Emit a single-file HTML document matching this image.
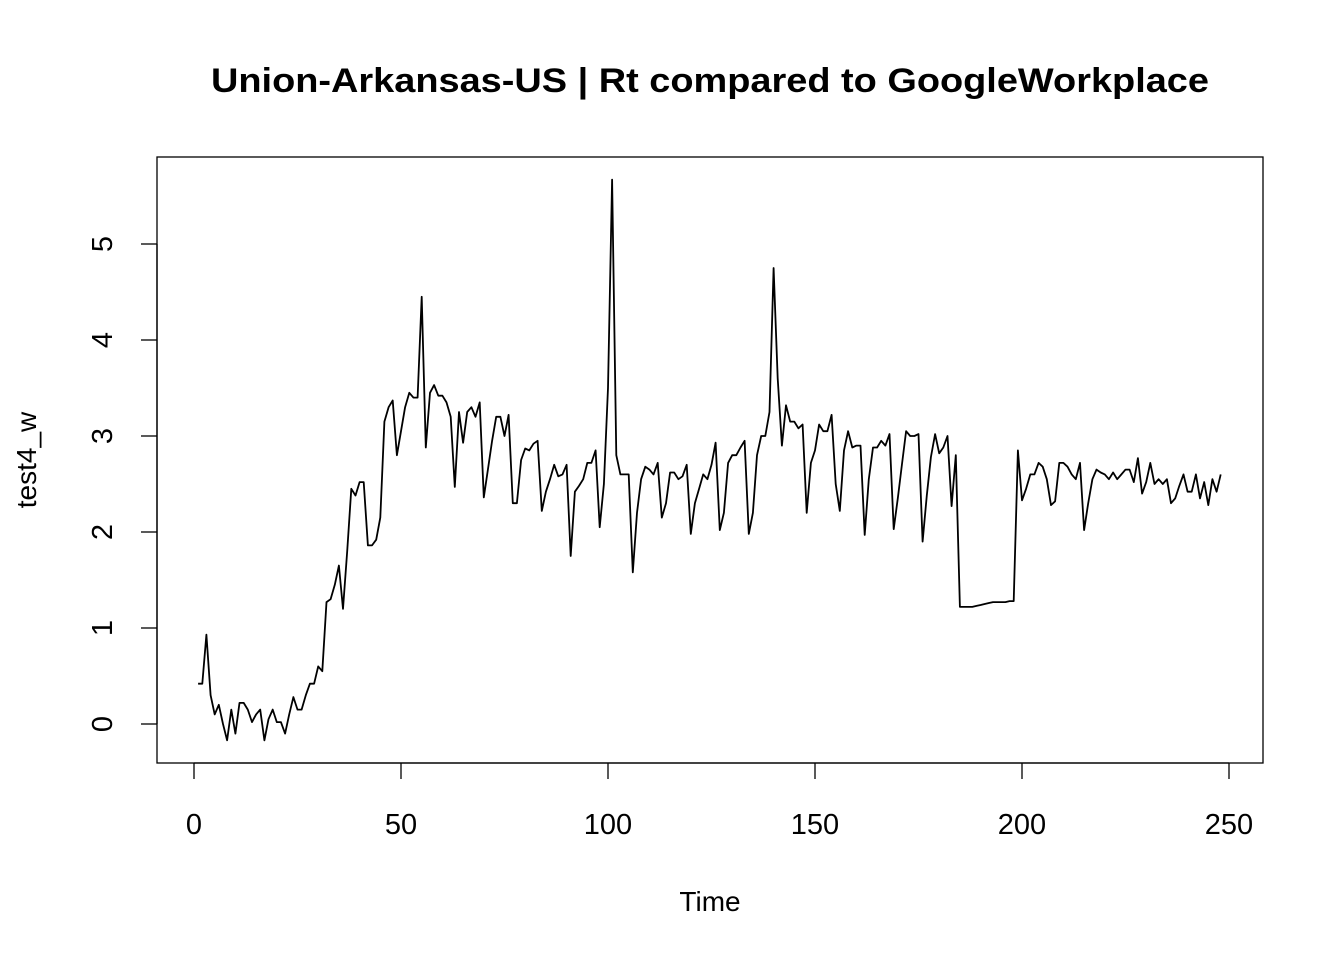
<!DOCTYPE html>
<html><head><meta charset="utf-8"><style>
body{margin:0;background:#fff}
svg text{font-family:"Liberation Sans",Arial,sans-serif;fill:#000}
</style></head><body>
<svg id="chart" width="1344" height="960" xmlns="http://www.w3.org/2000/svg">
<rect width="1344" height="960" fill="#fff"/>
<text x="211" y="92" font-size="34" font-weight="bold" textLength="998" lengthAdjust="spacingAndGlyphs">Union-Arkansas-US | Rt compared to GoogleWorkplace</text>
<rect x="157" y="157" width="1106" height="606" fill="none" stroke="#000" stroke-width="1.3"/>
<text x="710" y="911" font-size="28" text-anchor="middle">Time</text>
<text transform="translate(36,460) rotate(-90)" font-size="28" text-anchor="middle">test4_w</text>
<g id="axes"></g>
<path id="series" fill="none" stroke="#000" stroke-width="1.8" stroke-linejoin="round"/>
</svg>
<script>
const xTicks=[0,50,100,150,200,250];
const yTicks=[0,1,2,3,4,5];
const values=[0.42,0.42,0.93,0.3,0.1,0.2,0.0,-0.17,0.15,-0.1,
0.22,0.22,0.15,0.02,0.1,0.15,-0.17,0.05,0.15,0.02,
0.02,-0.1,0.1,0.28,0.15,0.15,0.3,0.42,0.42,0.6,
0.55,1.27,1.3,1.45,1.65,1.2,1.8,2.45,2.38,2.52,
2.52,1.86,1.86,1.92,2.15,3.15,3.3,3.37,2.8,3.05,
3.3,3.45,3.4,3.4,4.45,2.88,3.45,3.53,3.42,3.42,
3.35,3.2,2.47,3.25,2.93,3.25,3.3,3.2,3.35,2.36,
2.65,2.95,3.2,3.2,3.0,3.22,2.3,2.3,2.75,2.87,
2.85,2.92,2.95,2.22,2.42,2.55,2.7,2.58,2.6,2.7,
1.75,2.42,2.48,2.55,2.72,2.72,2.85,2.05,2.5,3.5,
5.67,2.8,2.6,2.6,2.6,1.58,2.2,2.55,2.68,2.65,
2.6,2.72,2.15,2.3,2.62,2.62,2.55,2.58,2.7,1.98,
2.3,2.45,2.6,2.55,2.7,2.93,2.02,2.2,2.72,2.8,
2.8,2.88,2.95,1.98,2.2,2.8,3.0,3.0,3.25,4.75,
3.6,2.9,3.32,3.15,3.15,3.08,3.12,2.2,2.72,2.85,
3.12,3.05,3.05,3.22,2.5,2.22,2.85,3.05,2.88,2.9,
2.9,1.97,2.55,2.88,2.88,2.95,2.9,3.02,2.03,2.35,
2.7,3.05,3.0,3.0,3.02,1.9,2.38,2.78,3.02,2.82,
2.88,3.0,2.27,2.8,1.22,1.22,1.22,1.22,1.23,1.24,
1.25,1.26,1.27,1.27,1.27,1.27,1.28,1.28,2.85,2.33,
2.45,2.6,2.6,2.72,2.68,2.55,2.28,2.32,2.72,2.72,
2.68,2.6,2.55,2.72,2.02,2.3,2.55,2.65,2.62,2.6,
2.55,2.62,2.55,2.6,2.65,2.65,2.52,2.77,2.4,2.52,
2.72,2.5,2.55,2.5,2.55,2.3,2.35,2.48,2.6,2.42,
2.42,2.6,2.35,2.52,2.28,2.55,2.42,2.6];
const xs=t=>194+(t)*(1229-194)/250;
const ys=v=>724-v*96;
const NS="http://www.w3.org/2000/svg";
const g=document.getElementById('axes');
function mk(tag,attrs){const e=document.createElementNS(NS,tag);for(const k in attrs)e.setAttribute(k,attrs[k]);g.appendChild(e);return e;}
mk('line',{x1:xs(0),x2:xs(250),y1:763,y2:763,stroke:'#000','stroke-width':1.3});
xTicks.forEach(t=>{
  const l=mk('line',{x1:xs(t),x2:xs(t),y1:763,y2:779,stroke:'#000','stroke-width':1.3});
  
  
  const tx=mk('text',{x:xs(t),y:834,'font-size':29,'text-anchor':'middle'});
  tx.textContent=t;
  
  
});
mk('line',{x1:157,x2:157,y1:ys(0),y2:ys(5),stroke:'#000','stroke-width':1.3});
yTicks.forEach(v=>{
  const l=mk('line',{x1:141,x2:157,y1:ys(v),y2:ys(v),stroke:'#000','stroke-width':1.3});
  
  
  const tx=mk('text',{transform:`translate(112,${ys(v)}) rotate(-90)`,'font-size':29,'text-anchor':'middle'});
  tx.textContent=v;
  
  
});
document.getElementById('series').setAttribute('d',values.map((v,i)=>(i?'L':'M')+xs(i+1).toFixed(1)+','+ys(v).toFixed(1)).join(''));
</script>
</body></html>
